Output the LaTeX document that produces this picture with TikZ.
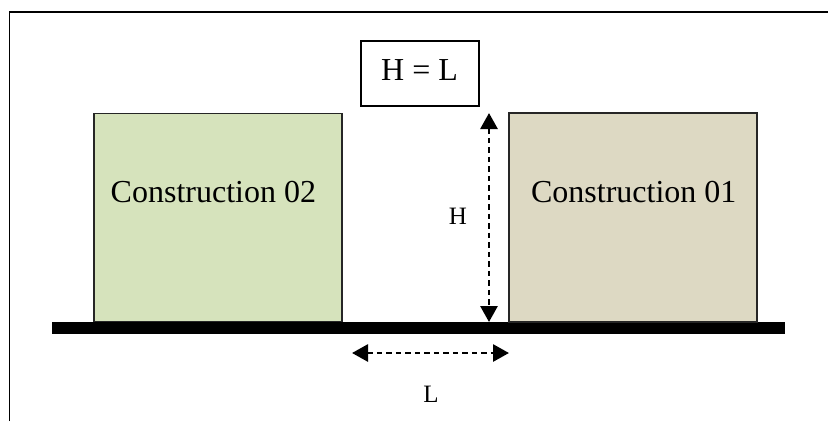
\documentclass[tikz,border=0pt]{standalone}
\usepackage{fontspec}
\setmainfont{Liberation Serif}
\usetikzlibrary{arrows.meta}
\definecolor{greenfill}{HTML}{D6E3BC}
\definecolor{brownfill}{HTML}{DDD9C3}
\tikzset{
  building/.style={draw=black!85, line width=1.4pt, inner sep=0pt},
  bigtext/.style={inner sep=0pt, anchor=base, font=\fontsize{32}{38}\selectfont},
  smalltext/.style={inner sep=0pt, anchor=base, font=\fontsize{25}{30}\selectfont},
  dimarrow/.style={line width=2.8pt, dash pattern=on 5.5pt off 4pt,
    {Triangle[length=16pt,width=17pt]}-{Triangle[length=16pt,width=17pt]}},
}
\begin{document}
\begin{tikzpicture}[x=1pt,y=-1pt]
\useasboundingbox (0,0) rectangle (828,421);
% frame
\draw[line width=1.4pt] (9.5,421) -- (9.5,12) -- (828,12);
% ground
\fill[black] (52,322) rectangle (785,334);
% buildings
\node[building, fill=greenfill, minimum width=248pt, minimum height=208pt] (c2) at (217.8,217.5) {};
\node[building, fill=brownfill, minimum width=248pt, minimum height=209pt] (c1) at (632.8,217.5) {};
\node[bigtext] (t2) at (213.4,202.7) {Construction 02};
\node[bigtext] (t1) at (633.8,202.7) {Construction 01};
% H = L box
\node[draw=black, line width=1.2pt, minimum width=118pt, minimum height=65pt, inner sep=0pt] (eq) at (420,73.5) {};
\node[bigtext] (eqt) at (419.5,80) {H = L};
% dimension arrows
\coordinate (hTop) at (489,113);
\coordinate (hBot) at (489,322);
\draw[dimarrow] (hTop) -- (hBot);
\node[smalltext] (hl) at (458,224) {H};
\coordinate (lLeft) at (352,353);
\coordinate (lRight) at (509,353);
\draw[dimarrow] (lLeft) -- (lRight);
\node[smalltext] (ll) at (431,402.7) {L};
\end{tikzpicture}
\end{document}
